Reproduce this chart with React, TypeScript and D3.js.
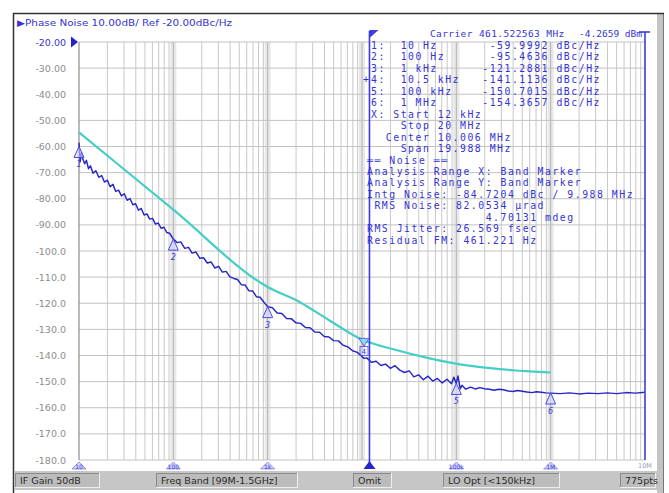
import React from 'react';
import * as d3 from 'd3';

const W = 669;
const H = 493;

const yTicks = [-20, -30, -40, -50, -60, -70, -80, -90, -100, -110, -120, -130, -140, -150, -160, -170, -180];
const decadeFreqs = [10, 100, 1e3, 1e4, 1e5, 1e6, 1e7];
const decadeLabels = ['10', '100', '1k', '10k', '100k', '1M', '10M'];

const markerFreqs = [10, 100, 1000, 10500, 100000, 1000000];
const markerFreqLabels = ['10 Hz', '100 Hz', '1 kHz', '10.5 kHz', '100 kHz', '1 MHz'];
const markerValues = [-59.9992, -95.4636, -121.2881, -141.1136, -150.7015, -154.3657];
const activeMarker = 4;

const bandStart = 12000;
const bandStop = 20e6;

const xLines = ['X: Start 12 kHz', '    Stop 20 MHz', '  Center 10.006 MHz', '    Span 19.988 MHz'];
const noiseLines = [
  '\u2550\u2550 Noise \u2550\u2550',
  'Analysis Range X: Band Marker',
  'Analysis Range Y: Band Marker',
  'Intg Noise: -84.7204 dBc / 9.988 MHz',
  ' RMS Noise: 82.0534 \u00b5rad',
  '                4.70131 mdeg',
  'RMS Jitter: 26.569 fsec',
  'Residual FM: 461.221 Hz',
];
const carrierText = 'Carrier 461.522563 MHz';
const carrierPower = '-4.2659 dBm';
const titleText = '\u25b6Phase Noise 10.00dB/ Ref -20.00dBc/Hz';
const statusItems = ['IF Gain 50dB', 'Freq Band [99M-1.5GHz]', 'Omit', 'LO Opt [<150kHz]', '775pts'];

// measured phase noise trace [Hz, dBc/Hz]
const noiseTrace: [number, number][] = [
  [10, -58.5], [10.3, -65.8], [10.6, -62.4], [11, -64.9], [11.5, -66.6], [12, -65.3], [12.6, -68.5],
  [13.2, -67.4], [14.1, -70.2], [15.1, -69.3], [16.2, -71.8], [17.4, -71.1], [18.6, -73.6], [20, -72.9],
  [21.4, -75.4], [22.9, -74.5], [24.5, -77.2], [26.3, -76.7], [28.2, -78.9], [30.2, -78.1], [32.4, -80.6],
  [34.7, -79.9], [37.2, -82.3], [39.8, -81.9], [42.7, -84.4], [45.7, -83.7], [49, -86.2], [52.5, -85.8],
  [56.2, -87.8], [60.3, -87.5], [64.6, -89.7], [69.2, -89.3], [74.1, -91.3], [79.4, -90.9], [85.1, -92.9],
  [91.2, -93.2], [100, -95.4], [110, -96.8], [120, -96.5], [132, -99.0], [145, -98.6], [158, -100.8],
  [174, -100.4], [191, -102.8], [209, -102.6], [229, -104.6], [251, -104.2], [275, -106.5], [302, -105.9],
  [331, -108.1], [363, -107.8], [398, -109.9], [437, -110.5], [479, -110.9], [525, -112.9], [575, -113.0],
  [631, -115.2], [692, -115.3], [759, -117.5], [832, -117.7], [912, -119.6], [1000, -121.3], [1122, -121.7],
  [1259, -123.7], [1413, -123.9], [1585, -125.8], [1778, -125.9], [1995, -127.5], [2239, -127.7],
  [2512, -129.3], [2818, -129.4], [3162, -131.0], [3548, -131.1], [3981, -132.7], [4467, -132.9],
  [5012, -134.3], [5623, -134.4], [6310, -136.1], [7079, -136.7], [7943, -138.2], [8913, -138.8],
  [10000, -140.4], [10500, -141.1], [11220, -140.9], [12589, -142.6], [14125, -142.2], [15849, -143.8],
  [17783, -143.3], [19953, -144.9], [22387, -143.9], [25119, -145.6], [28184, -146.5], [31623, -145.9],
  [35481, -148.2], [39811, -147.4], [44668, -149.3], [50119, -147.9], [56234, -149.8], [63096, -148.8],
  [70795, -150.5], [79433, -149.1], [89125, -150.8], [94000, -148.3], [100000, -150.7], [104000, -147.8],
  [110000, -152.8], [114815, -151.4], [125893, -152.9], [141254, -152.1], [158489, -152.8], [177828, -152.3],
  [199526, -152.7], [223872, -152.9], [251189, -153.3], [281838, -152.9], [316228, -153.1], [354813, -153.6],
  [398107, -153.8], [446684, -153.4], [501187, -153.7], [562341, -154.0], [630957, -154.2], [707946, -153.9],
  [794328, -154.1], [891251, -154.3], [1000000, -154.4], [1258925, -154.6], [1584893, -154.3],
  [1995262, -154.7], [2511886, -154.4], [3162278, -154.6], [3981072, -154.3], [5011872, -154.6],
  [6309573, -154.2], [7943282, -154.4], [10000000, -154.1],
];

// reference / spec trace [Hz, dBc/Hz]
const specTrace: [number, number][] = [
  [10, -54.6], [100, -84.2], [1000, -113.8], [2200, -119.6], [4400, -126.3], [10000, -133.9],
  [23000, -137.9], [52000, -141.1], [118000, -143.6], [270000, -145.1], [600000, -146.1], [1000000, -146.5],
];

const BLUE = '#2626c8';
const TXT_BLUE = '#3434d4';
const MONO = '"DejaVu Sans Mono", monospace';
const SANS = '"DejaVu Sans", sans-serif';
const TABLE_FS = 9.8;
const TABLE_LS = 1.52;

export default function App() {
  const x = d3.scaleLog().domain([10, 1e7]).range([79, 645]);
  const y = d3.scaleLinear().domain([-20, -180]).range([42, 460]);
  const [x0, x1] = x.range();
  const [yTop, yBot] = y.range();

  const line = d3.line<[number, number]>().x(d => x(d[0])).y(d => y(d[1]));
  const specLine = d3
    .line<[number, number]>()
    .x(d => x(d[0]))
    .y(d => y(d[1]))
    .curve(d3.curveMonotoneX);

  const minorFreqs: number[] = [];
  for (let d = 1; d < 7; d++) for (let k = 2; k <= 9; k++) minorFreqs.push(k * Math.pow(10, d));

  const bsX = x(bandStart);
  const beX = Math.min(x(bandStop), x1);

  const rowY0 = 45.5;
  const rowH = 11.45;
  const fmtY = (v: number) => (v > -100 ? v.toFixed(2) : v.toFixed(1));

  const markerRows = markerFreqs.map(
    (_, i) => `${i + 1}:  ${markerFreqLabels[i].padEnd(10)}${markerValues[i].toFixed(4).padStart(10)} dBc/Hz`
  );

  const statusBoxes = [
    [15, 100],
    [156, 298],
    [353, 392],
    [443, 560],
    [620, 656],
  ];

  const tableText = (s: string, tx: number, row: number, key: string) => (
    <text
      key={key}
      x={tx}
      y={rowY0 + row * rowH + 3.5}
      fontFamily={MONO}
      fontSize={TABLE_FS}
      letterSpacing={TABLE_LS}
      fill={TXT_BLUE}
      style={{ whiteSpace: 'pre' }}
    >
      {s}
    </text>
  );

  return (
    <div style={{ position: 'absolute', left: 0, top: 0, width: W, height: H, background: '#fff' }}>
      <svg width={W} height={H} style={{ display: 'block' }}>
        <rect x={0} y={0} width={W} height={H} fill="#fff" />
        {/* window frame */}
        <rect x={657} y={13} width={6} height={H - 13} fill="#c4c4c4" />
        <line x1={663.5} y1={13} x2={663.5} y2={H} stroke="#777" strokeWidth={1} />
        <line x1={13} y1={13.5} x2={664} y2={13.5} stroke="#333" strokeWidth={1.5} />
        <line x1={13.5} y1={13} x2={13.5} y2={H} stroke="#333" strokeWidth={1.5} />

        {/* title */}
        <text x={17} y={26} fontFamily={SANS} fontSize={9} fill={TXT_BLUE} textLength={215} lengthAdjust="spacingAndGlyphs">
          {titleText}
        </text>

        {/* decade bands */}
        {decadeFreqs.slice(1, -1).map(f => (
          <rect key={'band' + f} x={x(f) - 3} y={yTop} width={6} height={yBot - yTop} fill="#e8e8e8" />
        ))}
        {/* vertical grid */}
        {minorFreqs.map(f => (
          <line key={'v' + f} x1={x(f)} x2={x(f)} y1={yTop} y2={yBot} stroke="#c2c2c2" strokeWidth={0.9} />
        ))}
        {decadeFreqs.slice(1, -1).map(f => (
          <line key={'vd' + f} x1={x(f)} x2={x(f)} y1={yTop} y2={yBot} stroke="#b4b4b4" strokeWidth={1} />
        ))}
        {/* horizontal grid */}
        {yTicks.map(v => (
          <line key={'h' + v} x1={x0} x2={x1} y1={y(v)} y2={y(v)} stroke="#c2c2c2" strokeWidth={1} />
        ))}
        <line x1={x0} x2={x0} y1={yTop} y2={yBot} stroke="#8c8c8c" strokeWidth={1.2} />

        {/* y labels */}
        {yTicks.map((v, i) => (
          <text
            key={'yl' + v}
            x={66}
            y={y(v) + 3.5}
            textAnchor="end"
            fontFamily={SANS}
            fontSize={9.5}
            fill={i === 0 ? TXT_BLUE : '#8e8e8e'}
          >
            {fmtY(v)}
          </text>
        ))}
        <path d={`M${x0 - 8},${yTop - 5.5} L${x0 - 1},${yTop} L${x0 - 8},${yTop + 5.5} Z`} fill="#2020d0" />

        {/* traces */}
        <path d={specLine(specTrace) || ''} fill="none" stroke="#45cfc4" strokeWidth={2.2} />
        <path d={line(noiseTrace) || ''} fill="none" stroke={BLUE} strokeWidth={1.45} strokeLinejoin="round" />

        {/* band markers */}
        <line x1={bsX} x2={bsX} y1={31} y2={yBot + 4} stroke="#3b3be0" strokeWidth={1.6} />
        <path d={`M${bsX},${30} L${bsX + 9},${30} L${bsX},${38} Z`} fill="#3b3be0" />
        <line x1={beX} x2={beX} y1={32} y2={yBot} stroke="#3b3be0" strokeWidth={1.6} />
        <line x1={beX - 6} x2={beX + 5} y1={32} y2={32} stroke="#3b3be0" strokeWidth={1.6} />
        <path d={`M${bsX - 6},${yBot + 9} L${bsX},${yBot + 1} L${bsX + 6},${yBot + 9} Z`} fill="#2525cc" />

        {/* markers */}
        {markerFreqs.map((f, i) => {
          const mx = x(f);
          const my = y(markerValues[i]);
          if (i + 1 === activeMarker) {
            return (
              <g key={'m' + i}>
                <path d={`M${mx - 5},${my - 20} L${mx + 5},${my - 20} L${mx},${my - 12} Z`} fill="#8fd8f0" stroke="#4a4ae0" strokeWidth={0.8} />
                <rect x={mx - 4} y={my - 12} width={8} height={9} fill="none" stroke="#4a4ae0" strokeWidth={0.8} />
                <text x={mx} y={my - 4.5} textAnchor="middle" fontFamily={SANS} fontSize={7} fill="#3a3ad8">
                  {i + 1}
                </text>
              </g>
            );
          }
          return (
            <g key={'m' + i}>
              <path d={`M${mx},${my} L${mx - 5},${my + 11} L${mx + 5},${my + 11} Z`} fill="#d6d6ff" fillOpacity={0.6} stroke="#4a4ae0" strokeWidth={1} />
              <text x={mx} y={my + 21} textAnchor="middle" fontFamily={SANS} fontSize={8} fontStyle="italic" fill="#3a3ad8">
                {i + 1}
              </text>
            </g>
          );
        })}

        {/* decade labels */}
        {decadeFreqs.map((f, i) => {
          const dx = x(f);
          if (Math.abs(dx - bsX) < 10) return null;
          if (i === decadeFreqs.length - 1) {
            return (
              <text key={'dl' + f} x={dx} y={yBot + 8} textAnchor="middle" fontFamily={SANS} fontSize={6.5} fill="#9a9aaa">
                {decadeLabels[i]}
              </text>
            );
          }
          return (
            <g key={'dl' + f}>
              <path d={`M${dx - 7},${yBot + 9} L${dx},${yBot + 2} L${dx + 7},${yBot + 9} Z`} fill="#d4d4ff" stroke="#7070e0" strokeWidth={0.7} />
              <text x={dx} y={yBot + 8.5} textAnchor="middle" fontFamily={SANS} fontSize={6} fill="#3a3ad8">
                {decadeLabels[i]}
              </text>
            </g>
          );
        })}

        {/* marker table */}
        <text x={430} y={37} fontFamily={MONO} fontSize={9.5} letterSpacing={0.4} fill={TXT_BLUE}>
          {carrierText}
        </text>
        <text x={642} y={37} textAnchor="end" fontFamily={MONO} fontSize={9.5} fill={TXT_BLUE}>
          {carrierPower}
        </text>
        {markerRows.map((s, i) => tableText(s, 371, i, 'mr' + i))}
        <text x={363} y={rowY0 + (activeMarker - 1) * rowH + 3.5} fontFamily={MONO} fontSize={TABLE_FS} fill={TXT_BLUE}>
          +
        </text>
        {xLines.map((s, i) => tableText(s, 371, 6 + i, 'xl' + i))}
        {noiseLines.map((s, i) => tableText(s, 367, 10 + i, 'nl' + i))}

        {/* status bar */}
        <rect x={14} y={471} width={643} height={19} fill="#c6c6c6" />
        {statusItems.map((s, i) => {
          const [a, b] = statusBoxes[i];
          return (
            <g key={'st' + i}>
              <rect x={a} y={473} width={b - a} height={15} fill="#bcbcbc" />
              <line x1={a} x2={b} y1={473.5} y2={473.5} stroke="#8a8a8a" />
              <line x1={a + 0.5} x2={a + 0.5} y1={473} y2={488} stroke="#8a8a8a" />
              <line x1={a} x2={b} y1={487.5} y2={487.5} stroke="#eeeeee" />
              <line x1={b - 0.5} x2={b - 0.5} y1={473} y2={488} stroke="#eeeeee" />
              <text x={a + 5} y={484} fontFamily={SANS} fontSize={9.5} fill="#2a2a2a">
                {s}
              </text>
            </g>
          );
        })}
      </svg>
    </div>
  );
}
